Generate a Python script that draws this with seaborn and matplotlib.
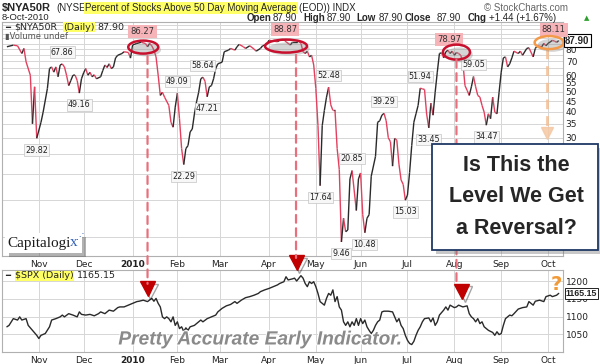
import numpy as np
import pandas as pd
import seaborn as sns
import matplotlib.pyplot as plt
import matplotlib.patheffects as pe
from matplotlib.collections import LineCollection
from matplotlib.patches import Ellipse, FancyBboxPatch, ConnectionPatch
from matplotlib.transforms import ScaledTranslation

# trading day number (0 = 12-Oct-2009) and close of $NYA50R
nya_day = [0, 3, 5, 7, 8, 9, 11, 12, 13, 14, 16, 17, 19, 20, 21, 22, 23, 24, 25, 26,
           27, 28, 29, 30, 31, 32, 33, 34, 35, 36, 37, 38, 39, 40, 41, 42, 44, 45, 46, 47,
           48, 49, 50, 51, 52, 54, 55, 57, 58, 59, 61, 63, 65, 66, 67, 68, 69, 70, 71, 72,
           73, 74, 76, 77, 78, 79, 80, 81, 82, 83, 84, 85, 86, 87, 88, 89, 90, 91, 92, 93,
           94, 95, 96, 97, 98, 99, 101, 102, 104, 105, 107, 108, 109, 111, 112, 114, 116, 117, 119, 120,
           122, 123, 125, 127, 128, 130, 131, 133, 134, 136, 137, 138, 139, 140, 141, 142, 143, 144, 145, 146,
           147, 148, 149, 150, 151, 152, 153, 154, 155, 156, 157, 158, 159, 160, 161, 162, 164, 165, 166, 167,
           168, 169, 170, 171, 173, 174, 175, 176, 177, 178, 179, 180, 181, 182, 183, 184, 185, 186, 187, 188,
           189, 190, 191, 192, 193, 194, 195, 196, 197, 198, 199, 200, 201, 202, 203, 204, 205, 206, 207, 208,
           209, 210, 211, 212, 213, 214, 215, 216, 217, 218, 219, 220, 221, 222, 223, 224, 225, 226, 227, 228,
           229, 230, 231, 232, 233, 234, 235, 236, 237, 238, 240, 241, 242, 244, 245, 247, 248, 249, 251, 252,
           253, 254, 256, 257, 258, 259]
nya_val = [82.1, 83.6, 83.0, 76.2, 80.6, 69.5, 59.9, 35.0, 52.7, 29.82, 35.6, 39.8, 51.7, 64.5, 65.7, 62.0, 65.7, 58.9, 67.1, 67.86,
           65.7, 59.9, 53.4, 56.5, 59.9, 60.0, 56.5, 49.16, 57.6, 61.5, 64.5, 59.9, 61.9, 58.9, 60.2, 57.6, 58.9, 63.1, 67.1, 65.3,
           68.0, 64.5, 65.7, 72.6, 74.7, 76.2, 77.7, 77.1, 72.4, 83.7, 85.2, 86.27, 85.2, 82.1, 85.2, 83.0, 79.1, 73.4, 59.9, 47.9,
           49.6, 47.0, 42.9, 35.6, 33.7, 42.1, 49.09, 37.0, 26.6, 22.29, 26.6, 27.5, 32.0, 33.0, 39.0, 44.6, 49.6, 57.6, 58.64, 56.0,
           47.21, 52.7, 53.4, 57.6, 64.5, 68.0, 69.2, 77.7, 79.1, 80.6, 79.1, 82.1, 84.3, 82.1, 80.6, 83.0, 80.0, 78.2, 80.6, 83.0,
           84.3, 88.3, 87.4, 86.8, 88.3, 88.87, 86.8, 83.7, 86.2, 86.2, 87.4, 85.2, 77.7, 76.2, 78.2, 73.4, 74.7, 67.1, 51.7, 34.3,
           17.64, 34.3, 40.6, 47.0, 52.48, 43.2, 40.6, 40.6, 26.6, 21.1, 9.46, 12.3, 10.6, 10.8, 19.0, 20.85, 13.4, 19.0, 20.3, 12.8,
           10.48, 12.3, 12.8, 19.6, 24.4, 35.6, 36.2, 38.5, 39.29, 36.2, 30.0, 28.7, 21.9, 29.8, 29.2, 22.4, 18.8, 17.9, 15.03, 15.9,
           20.4, 27.5, 35.6, 39.1, 42.9, 51.94, 51.5, 51.2, 39.0, 33.45, 44.0, 38.5, 49.6, 62.0, 76.2, 76.8, 72.6, 77.7, 78.97, 76.2,
           78.2, 74.7, 77.1, 76.2, 74.7, 69.2, 53.4, 50.7, 47.9, 52.7, 59.05, 52.7, 47.9, 47.0, 42.9, 39.8, 34.47, 39.1, 37.0, 47.0,
           39.8, 39.1, 49.6, 62.0, 72.6, 73.4, 65.7, 68.0, 72.6, 78.2, 76.2, 78.2, 74.7, 80.6, 81.2, 73.4, 80.6, 83.0, 82.1, 85.2,
           83.0, 85.2, 88.11, 87.4, 86.2, 87.90]

# S&P 500 close, same day numbering
spx_day = [0, 1, 3, 5, 6, 7, 9, 10, 12, 14, 15, 16, 18, 20, 21, 23, 25, 26, 27, 29,
           31, 33, 34, 35, 37, 39, 41, 43, 44, 46, 48, 50, 52, 53, 55, 57, 59, 61, 62, 64,
           66, 68, 69, 70, 71, 72, 73, 74, 75, 76, 77, 78, 79, 80, 81, 82, 83, 84, 85, 86,
           88, 90, 91, 92, 94, 96, 98, 99, 101, 103, 105, 107, 108, 110, 112, 114, 116, 118, 119, 121,
           123, 125, 127, 128, 130, 131, 132, 134, 135, 136, 138, 139, 140, 141, 142, 143, 144, 145, 146, 147,
           149, 150, 151, 152, 153, 154, 155, 156, 157, 158, 159, 160, 161, 162, 163, 164, 165, 166, 167, 168,
           169, 170, 171, 172, 173, 174, 175, 176, 177, 179, 181, 182, 183, 184, 185, 186, 187, 188, 189, 190,
           191, 192, 193, 194, 195, 196, 198, 199, 200, 201, 202, 203, 205, 206, 207, 208, 210, 211, 212, 214,
           216, 217, 218, 219, 220, 221, 222, 223, 224, 226, 228, 229, 230, 231, 232, 233, 234, 236, 237, 238,
           240, 241, 242, 244, 245, 247, 248, 250, 252, 253, 255, 256, 258, 259]
spx_val = [1071, 1075, 1094, 1090, 1099, 1090, 1094, 1075, 1061, 1047, 1038, 1047, 1052, 1071, 1090, 1094, 1099, 1104, 1099, 1108,
           1104, 1099, 1113, 1106, 1104, 1106, 1102, 1108, 1113, 1108, 1118, 1115, 1125, 1127, 1127, 1132, 1137, 1142, 1143, 1146,
           1142, 1151, 1143, 1151, 1137, 1127, 1099, 1094, 1099, 1094, 1085, 1099, 1075, 1085, 1066, 1071, 1058, 1068, 1061, 1071,
           1075, 1085, 1090, 1085, 1094, 1099, 1104, 1113, 1123, 1130, 1134, 1142, 1137, 1146, 1153, 1156, 1160, 1165, 1170, 1175,
           1179, 1184, 1189, 1193, 1198, 1212, 1203, 1206, 1208, 1200, 1215, 1208, 1193, 1184, 1198, 1193, 1198, 1184, 1165, 1142,
           1132, 1151, 1165, 1160, 1175, 1142, 1156, 1127, 1118, 1085, 1075, 1085, 1071, 1085, 1075, 1094, 1075, 1094, 1080, 1090,
           1071, 1061, 1052, 1061, 1075, 1085, 1090, 1113, 1115, 1115, 1113, 1099, 1085, 1094, 1075, 1066, 1047, 1033, 1024, 1021,
           1030, 1047, 1061, 1071, 1085, 1094, 1096, 1085, 1096, 1075, 1085, 1104, 1118, 1127, 1118, 1132, 1125, 1127, 1132, 1127,
           1130, 1108, 1099, 1094, 1085, 1094, 1080, 1085, 1071, 1061, 1055, 1047, 1057, 1049, 1052, 1075, 1094, 1104, 1102, 1108,
           1121, 1123, 1125, 1127, 1142, 1132, 1143, 1146, 1142, 1156, 1160, 1156, 1160, 1165.15]

nya_lows = [29.82, 49.16, 22.29, 47.21, 17.64, 9.46, 10.48, 15.03, 33.45, 34.47]
nya_highs = [67.86, 49.09, 58.64, 52.48, 20.85, 39.29, 51.94, 59.05]
nya_tops = [86.27, 88.87, 78.97, 88.11]
nya_ticks = [30, 35, 40, 45, 50, 55, 60, 70, 80]
spx_ticks = [1050, 1100, 1150, 1200]

sns.set_style('white')
plt.rcParams['font.family'] = ['DejaVu Sans']

W, H = 600, 364
fig = plt.figure(figsize=(6, 3.64), dpi=100)
def fx(x): return x / W
def fy(y): return 1 - y / H

ax1 = fig.add_axes([fx(2), fy(256), fx(561), (256 - 22) / H])
ax2 = fig.add_axes([fx(2), fy(352), fx(561), (352 - 270) / H])

# month ticks from the trading calendar
days = pd.bdate_range('2009-10-12', '2010-10-08')
pos = pd.Series(np.arange(len(days)), index=days)
first = pos.groupby(days.to_period('M')).first().iloc[1:]
mlabels = ['2010' if p.month == 1 else p.strftime('%b') for p in first.index]

RED = '#e2405e'
BLK = '#2a2a2a'
GRID = '#d6d6d6'
hf = 'Liberation Sans'

# NYA50R: black on up days, red on down days
x = np.array(nya_day, float)
y = np.array(nya_val, float)
pts = np.column_stack([x, y])
segs = np.stack([pts[:-1], pts[1:]], axis=1)
cols = np.where(np.diff(y) < 0, RED, BLK)
ax1.add_collection(LineCollection(segs, colors=cols, linewidths=1.0, zorder=3))
ax1.set_yscale('log')
ax1.set_xlim(-2.3, 261)
ax1.set_ylim(8.1, 108)
grid_vals = list(range(10, 110, 5))
ax1.yaxis.set_minor_locator(plt.NullLocator())
ax1.set_yticks(grid_vals)
ax1.set_yticklabels([str(v) if v in nya_ticks else '' for v in grid_vals])

sns.lineplot(x=spx_day, y=spx_val, ax=ax2, color=BLK, linewidth=1.0, zorder=3)
ax2.set_xlim(-2.3, 261)
ax2.set_ylim(1000, 1231)
ax2.set_yticks(spx_ticks)

for ax in (ax1, ax2):
    ax.set_xticks(first.values)
    ax.set_xticklabels(mlabels)
    for lab in ax.get_xticklabels():
        if lab.get_text() == '2010':
            lab.set_fontweight('bold')
    ax.yaxis.tick_right()
    ax.tick_params(axis='both', length=0, labelsize=6.5, colors='#222222', pad=2)
    ax.tick_params(axis='x', pad=3)
    ax.grid(True, color=GRID, linewidth=0.7)
    ax.set_axisbelow(True)
    ax.set_xlabel('')
    ax.set_ylabel('')
    for s in ax.spines.values():
        s.set_color('#b0b0b0')
        s.set_linewidth(0.8)

# peak / trough labels
lab_box = dict(boxstyle='square,pad=0.15', fc='#f7f7f7', ec='#c4c4c4', lw=0.5)
for v in nya_lows + nya_highs:
    i = nya_val.index(v)
    dy = -8.5 if v in nya_lows else 8.5
    ax1.annotate(f'{v:.2f}', (nya_day[i], v), xytext=(0, dy), textcoords='offset points',
                 ha='center', va='center', fontsize=5.8, color='#222222', bbox=lab_box, zorder=5)
for v in nya_tops:
    i = nya_val.index(v)
    ax1.annotate(f'{v:.2f}', (nya_day[i], v), xytext=(1, 7.5), textcoords='offset points',
                 ha='center', va='center', fontsize=6, color='#333333', zorder=5,
                 bbox=dict(boxstyle='square,pad=0.25', fc='#f6b3b8', ec='none'))

# last value markers
ax1.annotate('87.90', (1, nya_val[-1]), xycoords=('axes fraction', 'data'), xytext=(1.5, 0),
             textcoords='offset points', ha='left', va='center', family=hf, fontsize=7, fontweight='bold',
             bbox=dict(boxstyle='square,pad=0.12', fc='white', ec='black', lw=0.8), annotation_clip=False)
ax2.annotate('1165.15', (1, spx_val[-1]), xycoords=('axes fraction', 'data'), xytext=(2, 0),
             textcoords='offset points', ha='left', va='center', family=hf, fontsize=6.4, fontweight='bold',
             bbox=dict(boxstyle='square,pad=0.12', fc='white', ec='black', lw=0.6), annotation_clip=False,
             zorder=8)

shadow = [pe.SimplePatchShadow(offset=(2, -2), shadow_rgbFace='#888888', alpha=0.35), pe.Normal()]

def ring(ax, cx, cy, w, h, color):
    t = fig.dpi_scale_trans + ScaledTranslation(cx, cy, ax.transData)
    e = Ellipse((0, 0), w / 100, h / 100, transform=t, fill=False, ec=color, lw=1.8, zorder=6)
    e.set_path_effects(shadow)
    ax.add_patch(e)

ring(ax1, 64, 81.8, 30, 13, '#c8102e')
ring(ax1, 131, 82.7, 42, 13, '#c8102e')
ring(ax1, 211, 77.4, 27, 15, '#c8102e')
ring(ax1, 254.5, 86, 29, 13, '#f39a4a')

# dashed links from the NYA50R tops to the S&P 500
DASH = '#e8707c'
for xa, ya, yb in [(66, 74, 1192), (135.7, 75, 1265), (211, 71, 1185)]:
    con = ConnectionPatch(xyA=(xa, ya), coordsA=ax1.transData, xyB=(xa, yb), coordsB=ax2.transData,
                          linestyle=(0, (3.5, 2.5)), color=DASH, lw=1.6, zorder=2)
    fig.add_artist(con)
for xa, yb in [(66, 1178), (136, 1252), (213.5, 1171)]:
    ax2.plot([xa], [yb], marker='v', markersize=11, color='#c00000', clip_on=False, zorder=7,
             path_effects=[pe.SimpleLineShadow(offset=(2, -2), alpha=0.35), pe.Normal()])

ax1.plot([253.5, 253.5], [80, 34], ls=(0, (3.5, 2.5)), color='#f5b98a', lw=2, alpha=0.8, zorder=2)
ax1.plot([253.5], [31.5], marker='v', markersize=9, color='#f5c8a4', alpha=0.85, zorder=2)
fig.text(fx(556), fy(284), '?', fontsize=14, fontweight='bold', color='#f29a38', ha='center', va='center')

# legends inside panels
fig.text(fx(5), fy(27), '━', fontsize=6, va='center')
fig.text(fx(14), fy(27), '$NYA50R', fontsize=6.8, va='center')
fig.text(fx(63), fy(27), '(Daily)', fontsize=6.8, va='center',
         bbox=dict(boxstyle='square,pad=0.05', fc='#ffff66', ec='none'))
fig.text(fx(97), fy(27), '87.90', fontsize=6.8, va='center')
fig.text(fx(5), fy(37), '▮Volume undef', fontsize=6, va='center', color='#555555')
fig.text(fx(5), fy(276), '━', fontsize=6, va='center')
fig.text(fx(15), fy(276), '$SPX (Daily)', fontsize=6.8, va='center',
         bbox=dict(boxstyle='square,pad=0.05', fc='#ffff66', ec='none'))
fig.text(fx(77), fy(276), '1165.15', fontsize=6.8, va='center')

# header
fig.text(fx(2), fy(8), '$NYA50R', family=hf, fontsize=8, fontweight='bold', va='center')
fig.text(fx(56), fy(8), '(NYSE', family=hf, fontsize=7, va='center')
fig.text(fx(85), fy(8), 'Percent of Stocks Above 50 Day Moving Average', family=hf, fontsize=7, va='center',
         bbox=dict(boxstyle='square,pad=0.1', fc='#ffff66', ec='none'))
fig.text(fx(299), fy(8), '(EOD)) INDX', family=hf, fontsize=7, va='center')
fig.text(fx(484), fy(8), '© StockCharts.com', family=hf, fontsize=7, va='center', color='#666666')
fig.text(fx(2), fy(18), '8-Oct-2010', family=hf, fontsize=6.8, va='center')
for xk, k, xv in [(247, 'Open', 273), (303, 'High', 327), (356, 'Low', 379), (405, 'Close', 437)]:
    fig.text(fx(xk), fy(18), k, family=hf, fontsize=7, fontweight='bold', va='center')
    fig.text(fx(xv), fy(18), '87.90', family=hf, fontsize=7, va='center')
fig.text(fx(468), fy(18), 'Chg', family=hf, fontsize=7, fontweight='bold', va='center')
fig.text(fx(489), fy(18), '+1.44 (+1.67%)', family=hf, fontsize=7, va='center')
fig.text(fx(584), fy(18), '▲', fontsize=5, va='center', color='#2a9d2a')

# call-out box
box = FancyBboxPatch((fx(432), fy(250)), fx(166), (250 - 144) / H, boxstyle='square,pad=0',
                     transform=fig.transFigure, fc='white', ec='#1f3864', lw=1.3, zorder=10)
box.set_path_effects([pe.SimplePatchShadow(offset=(3, -3), shadow_rgbFace='#777777', alpha=0.4), pe.Normal()])
fig.add_artist(box)
for yy, line in [(166, 'Is This the'), (197, 'Level We Get'), (228, 'a Reversal?')]:
    fig.text(fx(516), fy(yy), line, family=hf, fontsize=15.5, fontweight='bold', ha='center', va='center', zorder=11)

# Capitalogix logo
logo = FancyBboxPatch((fx(5), fy(253)), fx(77), 20 / H, boxstyle='square,pad=0',
                      transform=fig.transFigure, fc='white', ec='none', zorder=8)
logo.set_path_effects([pe.SimplePatchShadow(offset=(3, -3), shadow_rgbFace='#666666', alpha=0.5), pe.Normal()])
fig.add_artist(logo)
fig.text(fx(7), fy(243), 'Capitalogi', family='Liberation Serif', fontsize=11, va='center', color='#1a1a1a', zorder=9)
fig.text(fx(70), fy(243), 'x', family='Liberation Serif', fontsize=11, va='center', color='#2f5fb5', zorder=9)
fig.text(fx(76), fy(236), '⋰', fontsize=6, va='center', color='#2f5fb5', zorder=9)

fig.text(fx(260), fy(340), 'Pretty Accurate Early Indicator.', family=hf, fontsize=13.8, fontweight='bold',
         style='italic', color='#8a8a8a', ha='center', va='center',
         path_effects=[pe.withStroke(linewidth=1.5, foreground='white')])

fig.savefig('out.png', dpi=100)
